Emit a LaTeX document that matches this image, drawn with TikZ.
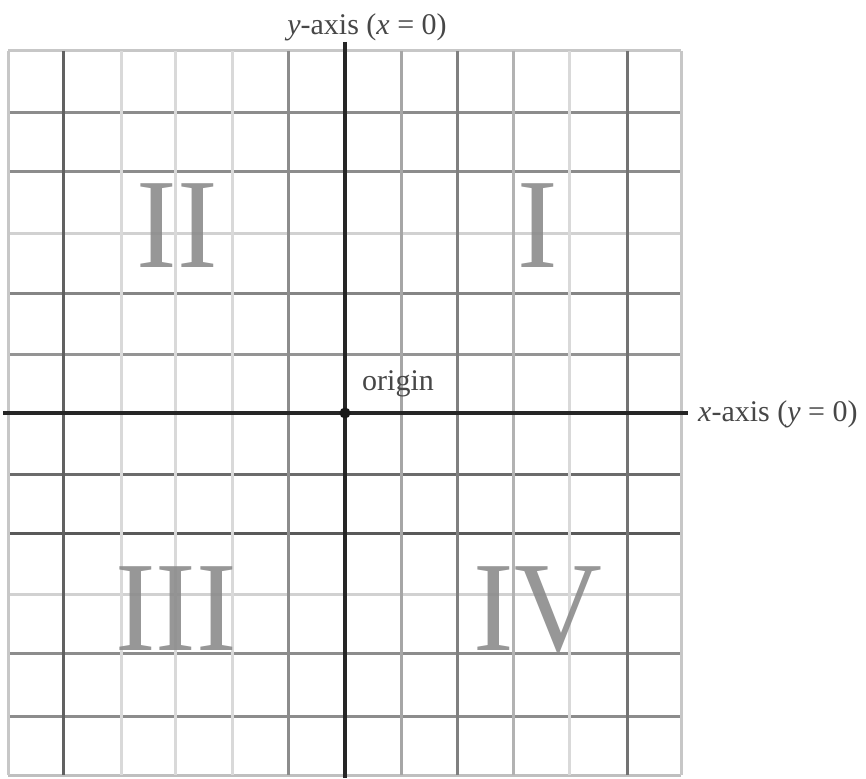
\documentclass[tikz,border=0pt]{standalone}
\usepackage{fontspec}
\setmainfont{Liberation Serif}
\begin{document}
\begin{tikzpicture}[x=1pt,y=-1pt,
  gridline/.style={line width=3pt},
  axisline/.style={line width=3.5pt, black!85},
  numeral/.style={font=\fontsize{128}{128}\selectfont, text=black!45, opacity=0.9, anchor=base, inner sep=0pt},
  lbl/.style={font=\fontsize{30}{30}\selectfont, text=black!72, inner sep=0pt}]
\useasboundingbox (0,0) rectangle (866,778);
\fill[white] (0,0) rectangle (866,778);
% horizontal grid lines
\foreach \y/\g in {51/22,113/45,171/45,233/18,293/48,354/42,474/58,533/65,594/18,653/45,716/45,775/25}
  \draw[gridline, black!\g] (8,\y) -- (681,\y);
% vertical grid lines
\foreach \x/\g in {8/22,63/62,121/15,175/15,232/15,288/45,401/35,457/50,513/30,569/15,627/55,681/22}
  \draw[gridline, black!\g] (\x,51) -- (\x,775);
% quadrant numerals
\node[numeral] (q2) at (177,267) {\scalebox{0.95}[1]{II}};
\node[numeral] (q1) at (538,267) {\scalebox{0.95}[1]{I}};
\node[numeral] (q3) at (176,650) {\scalebox{0.95}[1]{III}};
\node[numeral] (q4) at (538,650) {\scalebox{0.95}[1]{IV}};
% axes
\coordinate (ytop) at (345,42);
\coordinate (ybot) at (345,778);
\coordinate (xleft) at (3,413);
\coordinate (xright) at (688,413);
\coordinate (origin) at (345,413);
\draw[axisline] (ytop) -- (ybot);
\draw[axisline] (xleft) -- (xright);
\fill[black!90] (origin) circle (5.5);
% labels
\node[lbl, anchor=base] (ylab) at (367,35) {\textit{y}-axis (\textit{x} = 0)};
\node[lbl, anchor=base west] (olab) at (362,390) {origin};
\node[lbl, anchor=base west] (xlab) at (698,421) {\textit{x}-axis (\textit{y} = 0)};
\end{tikzpicture}
\end{document}
